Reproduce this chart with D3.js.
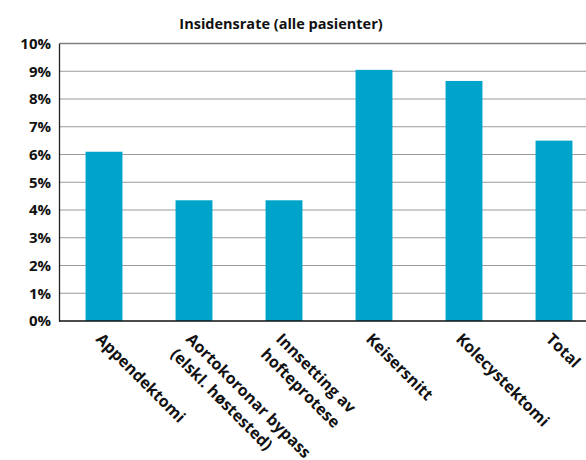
<!DOCTYPE html>
<html>
<head>
<meta charset="utf-8">
<script src="https://cdn.jsdelivr.net/npm/d3@7"></script>
<style>
  html, body { margin: 0; padding: 0; background: #fff; }
  svg { display: block; }
  text { font-family: "Open Sans", "Noto Sans", sans-serif; font-weight: 700; fill: #111; }
</style>
</head>
<body>
<svg id="chart" width="586" height="460"></svg>
<script>
// Incidence rate per procedure (percent of all patients)
const categories = [
  ["Appendektomi"],
  ["Aortokoronar bypass", "(elskl. høstested)"],
  ["Innsetting av", "hofteprotese"],
  ["Keisersnitt"],
  ["Kolecystektomi"],
  ["Total"]
];
const values = [6.1, 4.35, 4.35, 9.05, 8.65, 6.5];
const yTicks = [0, 1, 2, 3, 4, 5, 6, 7, 8, 9, 10];
const title = "Insidensrate (alle pasienter)";

const svg = d3.select("#chart");
const plotLeft = 59, plotTop = 43.5, plotBottom = 321, step = 90;

const x = d3.scaleBand()
  .domain(categories.map((d, i) => i))
  .range([plotLeft, plotLeft + step * categories.length])
  .paddingInner(0.59)
  .paddingOuter(0.295);

const y = d3.scaleLinear().domain([0, 10]).range([plotBottom, plotTop]);

// horizontal gridlines
svg.append("g").selectAll("line")
  .data(yTicks.filter(t => t > 0))
  .join("line")
  .attr("x1", plotLeft).attr("x2", 586)
  .attr("y1", d => y(d)).attr("y2", d => y(d))
  .attr("stroke", d => d === 10 ? "#7f7f7f" : "#9a9a9a")
  .attr("stroke-width", d => d === 10 ? 1.6 : 1.2);

// bars
svg.append("g").selectAll("rect")
  .data(values)
  .join("rect")
  .attr("x", (d, i) => x(i))
  .attr("width", x.bandwidth())
  .attr("y", d => y(d))
  .attr("height", d => y(0) - y(d))
  .attr("fill", "#00a3c9");

// y axis
const yAxis = d3.axisLeft(y).tickValues(yTicks).tickSize(0).tickPadding(8)
  .tickFormat(d => d + "%");
const gy = svg.append("g").attr("transform", `translate(${plotLeft},0)`).call(yAxis);
gy.select(".domain").attr("stroke", "#222").attr("stroke-width", 1.3);
gy.selectAll("text")
  .style("font-size", "15px")
  .style("font-family", "'Open Sans', sans-serif")
  .style("font-weight", 700)
  .attr("fill", "#111");

// baseline
svg.append("line")
  .attr("x1", plotLeft).attr("x2", 586)
  .attr("y1", y(0)).attr("y2", y(0))
  .attr("stroke", "#111").attr("stroke-width", 1.6);

// rotated category labels
const lbl = svg.append("g").selectAll("text")
  .data(categories)
  .join("text")
  .attr("transform", (d, i) => `translate(${x(i) + x.bandwidth() / 2 - 9},${plotBottom + 19}) rotate(45)`)
  .style("font-size", "16px");
lbl.selectAll("tspan")
  .data(d => d)
  .join("tspan")
  .attr("x", 0)
  .attr("dy", (d, j) => j === 0 ? 0 : "1.35em")
  .text(d => d);

// title
svg.append("text")
  .attr("x", 281).attr("y", 29)
  .attr("text-anchor", "middle")
  .style("font-size", "14.5px")
  .text(title);
</script>
</body>
</html>
